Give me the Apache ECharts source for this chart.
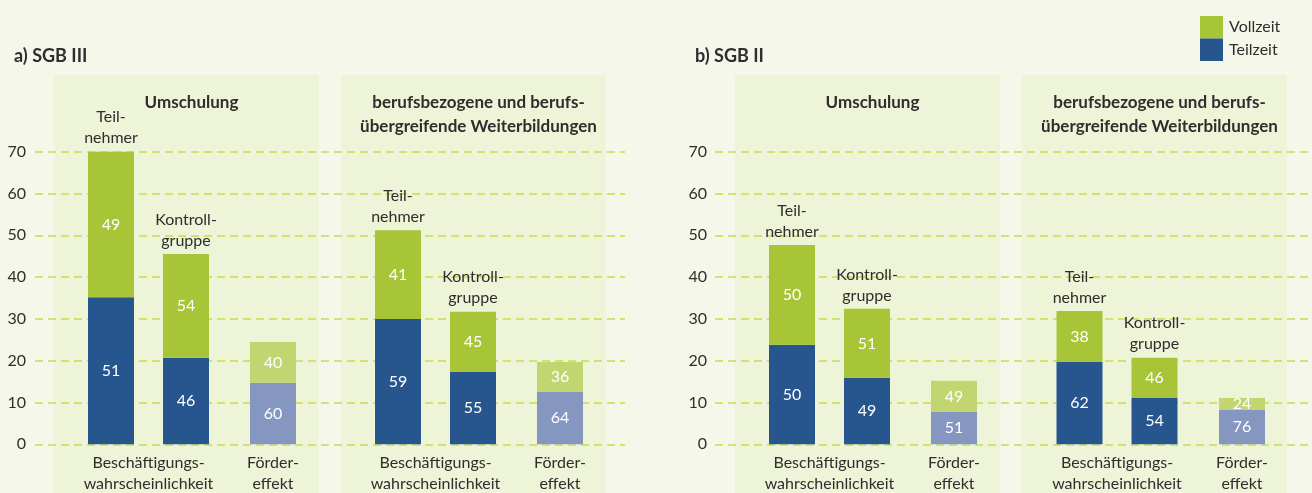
<!DOCTYPE html>
<html>
<head>
<meta charset="utf-8">
<script src="https://cdn.jsdelivr.net/npm/echarts@6/dist/echarts.min.js"></script>
<style>
html,body{margin:0;padding:0;background:#f5f7ea;}
#chart{width:1312px;height:493px;}
</style>
</head>
<body>
<div id="chart"></div>
<script>
// ---- data ----
const panelTitles = ['a) SGB III', 'b) SGB II'];
const boxTitles = ['Umschulung', 'berufsbezogene und berufs-\nübergreifende Weiterbildungen'];
const groupLabel = 'Beschäftigungs-\nwahrscheinlichkeit';
const effectLabel = 'Förder-\neffekt';
const barCategories = ['Teilnehmer', 'Kontrollgruppe', 'Fördereffekt'];
const barTopLabels = ['Teil-\nnehmer', 'Kontroll-\ngruppe'];
const seriesNames = ['Vollzeit', 'Teilzeit'];
const yMin = 0, yMax = 70, yStep = 10;

// bar heights (Teilzeit bottom, Vollzeit top) and printed shares (%)
const sgb3UmschTeilzeit = [35.2, 20.7, 14.7];
const sgb3UmschVollzeit = [34.8, 24.8, 9.8];
const sgb3UmschShareTeil = [51, 46, 60];
const sgb3UmschShareVoll = [49, 54, 40];

const sgb3WbTeilzeit = [30.0, 17.3, 12.5];
const sgb3WbVollzeit = [21.2, 14.4, 7.2];
const sgb3WbShareTeil = [59, 55, 64];
const sgb3WbShareVoll = [41, 45, 36];

const sgb2UmschTeilzeit = [23.8, 15.9, 7.7];
const sgb2UmschVollzeit = [23.9, 16.5, 7.5];
const sgb2UmschShareTeil = [50, 49, 51];
const sgb2UmschShareVoll = [50, 51, 49];

const sgb2WbTeilzeit = [19.7, 11.1, 8.2];
const sgb2WbVollzeit = [12.2, 9.6, 2.9];
const sgb2WbShareTeil = [62, 54, 76];
const sgb2WbShareVoll = [38, 46, 24];

// ---- styling / layout ----
const FONT = 'Lato';
const TXT = '#2e2e2e';
const C_VOLL = '#a7c537';
const C_TEIL = '#27568f';
const C_VOLL_L = '#c1d570';
const C_TEIL_L = '#8597c1';
const C_BOX = '#eef4d7';
const C_GRIDLINE = '#c8db4e';
const PLOT_TOP = 151.7, PLOT_BOTTOM = 48.7;
const BAR_W = 46;

const boxes = [
  {panel: 0, title: 0, boxLeft: 54,   pairCenter: 148.5,  effCenter: 273, teil: sgb3UmschTeilzeit, voll: sgb3UmschVollzeit, sT: sgb3UmschShareTeil, sV: sgb3UmschShareVoll},
  {panel: 0, title: 1, boxLeft: 341,  pairCenter: 435.5,  effCenter: 560, teil: sgb3WbTeilzeit, voll: sgb3WbVollzeit, sT: sgb3WbShareTeil, sV: sgb3WbShareVoll},
  {panel: 1, title: 0, boxLeft: 735,  pairCenter: 829.5,  effCenter: 954, teil: sgb2UmschTeilzeit, voll: sgb2UmschVollzeit, sT: sgb2UmschShareTeil, sV: sgb2UmschShareVoll},
  {panel: 1, title: 1, boxLeft: 1022, pairCenter: 1117,   effCenter: 1242, teil: sgb2WbTeilzeit, voll: sgb2WbVollzeit, sT: sgb2WbShareTeil, sV: sgb2WbShareVoll}
];
const BOX_W = 265, BOX_TOP = 75;

const grid = [], xAxis = [], yAxis = [], series = [], title = [], graphicEls = [];

// axis grids (dashed grid lines + y labels)
const axisGrids = [{left: 35, right: 1312 - 625, labelLeft: 9}, {left: 715, right: 0, labelLeft: 690}];
axisGrids.forEach((g, i) => {
  grid.push({left: g.left, right: g.right, top: PLOT_TOP, bottom: PLOT_BOTTOM, containLabel: false, outerBoundsMode: 'none'});
  xAxis.push({gridIndex: grid.length - 1, type: 'value', show: false, min: 0, max: 1});
  yAxis.push({
    gridIndex: grid.length - 1, type: 'value', min: yMin, max: yMax, interval: yStep, z: 3,
    axisLine: {show: false}, axisTick: {show: false},
    axisLabel: {color: TXT, fontFamily: FONT, fontSize: 16, margin: g.left - g.labelLeft - 17},
    splitLine: {show: true, lineStyle: {color: C_GRIDLINE, width: 1.5, type: [8, 5]}}
  });
  title.push({text: panelTitles[i], left: g.labelLeft, top: 42,
    textStyle: {fontFamily: FONT, fontSize: 18, fontWeight: 'bold', color: TXT}});
});

function valueLabel(shares) {
  return {show: true, position: 'inside', color: '#ffffff', fontFamily: FONT, fontSize: 16,
    formatter: p => String(shares[p.dataIndex])};
}

boxes.forEach((b, bi) => {
  // background box
  graphicEls.push({type: 'rect', z: -10, silent: true,
    shape: {x: b.boxLeft, y: BOX_TOP, width: BOX_W, height: 493 - BOX_TOP},
    style: {fill: C_BOX}});
  // box title
  title.push({text: boxTitles[b.title], left: b.boxLeft + BOX_W / 2, top: 86, textAlign: 'center',
    textStyle: {fontFamily: FONT, fontSize: 17, fontWeight: 'bold', color: TXT, lineHeight: 24}});

  // pair grid (Teilnehmer, Kontrollgruppe)
  const pairIdx = grid.length;
  grid.push({left: b.pairCenter - 75, width: 150, top: PLOT_TOP, bottom: PLOT_BOTTOM, containLabel: false, outerBoundsMode: 'none'});
  xAxis.push({gridIndex: pairIdx, type: 'category', data: barCategories.slice(0, 2),
    axisLine: {show: false}, axisTick: {show: false}, axisLabel: {show: false},
    name: groupLabel, nameLocation: 'middle', nameGap: 8,
    nameTextStyle: {fontFamily: FONT, fontSize: 16, color: TXT, lineHeight: 21, verticalAlign: 'top'}});
  yAxis.push({gridIndex: pairIdx, type: 'value', min: yMin, max: yMax, show: false});

  // effect grid
  const effIdx = grid.length;
  grid.push({left: b.effCenter - 37.5, width: 75, top: PLOT_TOP, bottom: PLOT_BOTTOM, containLabel: false, outerBoundsMode: 'none'});
  xAxis.push({gridIndex: effIdx, type: 'category', data: barCategories.slice(2),
    axisLine: {show: false}, axisTick: {show: false}, axisLabel: {show: false},
    name: effectLabel, nameLocation: 'middle', nameGap: 8,
    nameTextStyle: {fontFamily: FONT, fontSize: 16, color: TXT, lineHeight: 21, verticalAlign: 'top'}});
  yAxis.push({gridIndex: effIdx, type: 'value', min: yMin, max: yMax, show: false});

  const stackP = 'p' + bi, stackE = 'e' + bi;
  series.push({
    name: 'Teilzeit', type: 'bar', xAxisIndex: pairIdx, yAxisIndex: pairIdx, stack: stackP,
    barWidth: BAR_W, z: 4, itemStyle: {color: C_TEIL},
    data: b.teil.slice(0, 2), label: valueLabel(b.sT.slice(0, 2))
  });
  series.push({
    name: 'Vollzeit', type: 'bar', xAxisIndex: pairIdx, yAxisIndex: pairIdx, stack: stackP,
    barWidth: BAR_W, z: 4, itemStyle: {color: C_VOLL},
    data: b.voll.slice(0, 2), label: valueLabel(b.sV.slice(0, 2))
  });
  series.push({
    name: 'Gruppe', type: 'bar', xAxisIndex: pairIdx, yAxisIndex: pairIdx, stack: stackP,
    barWidth: BAR_W, z: 4, itemStyle: {color: 'rgba(0,0,0,0)'},
    data: barTopLabels.map(() => 0),
    label: {show: true, position: 'top', distance: 3, color: TXT, fontFamily: FONT, fontSize: 16, lineHeight: 21,
      formatter: p => barTopLabels[p.dataIndex]}
  });
  series.push({
    name: 'Teilzeit', type: 'bar', xAxisIndex: effIdx, yAxisIndex: effIdx, stack: stackE,
    barWidth: BAR_W, z: 4, itemStyle: {color: C_TEIL_L},
    data: b.teil.slice(2), label: valueLabel(b.sT.slice(2))
  });
  series.push({
    name: 'Vollzeit', type: 'bar', xAxisIndex: effIdx, yAxisIndex: effIdx, stack: stackE,
    barWidth: BAR_W, z: 4, itemStyle: {color: C_VOLL_L},
    data: b.voll.slice(2), label: valueLabel(b.sV.slice(2))
  });
});

const chart = echarts.init(document.getElementById('chart'), null, {renderer: 'canvas'});
chart.setOption({
  backgroundColor: '#f5f7ea',
  animation: false,
  textStyle: {fontFamily: FONT},
  title: title,
  graphic: {elements: graphicEls},
  legend: {
    orient: 'vertical', left: 1195, top: 11, itemGap: 0, itemWidth: 23, itemHeight: 22.5,
    icon: 'rect', selectedMode: false,
    textStyle: {fontFamily: FONT, fontSize: 16, color: TXT, padding: [0, 0, 0, 1]},
    data: [{name: 'Vollzeit', itemStyle: {color: C_VOLL}}, {name: 'Teilzeit', itemStyle: {color: C_TEIL}}]
  },
  grid: grid, xAxis: xAxis, yAxis: yAxis, series: series
});
</script>
</body>
</html>
